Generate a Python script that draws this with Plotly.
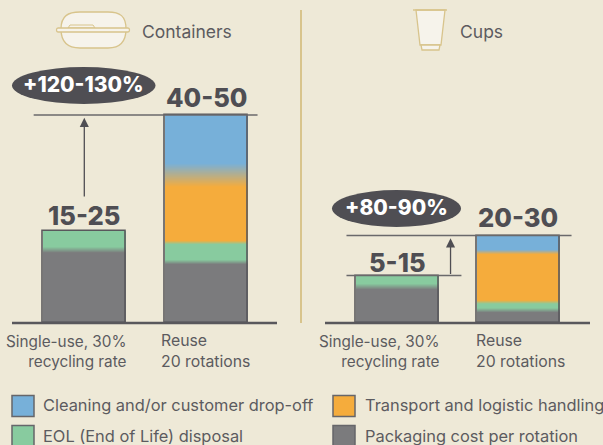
import plotly.graph_objects as go

W, H = 603, 445
BG = "#EEE9D7"; DARK = "#4F4E53"; TXT = "#5C5B5F"; GOLD = "#D8C48C"; ICON = "#F6F3EB"

segment_names = ["Packaging cost per rotation", "EOL (End of Life) disposal",
                 "Transport and logistic handling", "Cleaning and/or customer drop-off"]
segment_colors = ["#7B7B7D", "#88CB9F", "#F5AC3C", "#77B0D9"]

containers_single = [16.0, 4.0, 0, 0]
containers_reuse = [13.3, 4.3, 14.6, 13.0]
containers_blend = [1.0, 0.8, 5.2]
cups_single = [8.0, 2.3, 0, 0]
cups_reuse = [2.8, 1.8, 10.9, 3.5]
cups_blend = [1.0, 0.8, 1.0]
single_blend = [1.3, 0, 0]

containers_labels = ["15-25", "40-50"]
cups_labels = ["5-15", "20-30"]
containers_delta = "+120-130%"
cups_delta = "+80-90%"
cat_single = "Single-use, 30%<br>recycling rate"
cat_reuse = "Reuse<br>20 rotations"

BASE_PX, TOP_PX = 323, 23
Y_MAX = (BASE_PX - TOP_PX) / 4.6
FONT = "Inter, Noto Sans, sans-serif"
def px(x): return x / W
def py(y): return 1 - y / H
def hexrgb(c): return [int(c[i:i + 2], 16) for i in (1, 3, 5)]
def mix(a, b, t):
    A, B = hexrgb(a), hexrgb(b)
    return "rgb(%d,%d,%d)" % tuple(round(A[i] + (B[i] - A[i]) * t) for i in range(3))

def slices(values, blends):
    """Painter's-order tops and colours: solid segments with soft edges between them."""
    idx = [i for i, v in enumerate(values) if v > 0]
    tops, cols, cum = [], [], 0
    bounds = []
    for i in idx:
        cum += values[i]
        bounds.append(cum)
    total = cum
    step = 0.11
    n = int(total / step) + 1
    for k in range(n, -1, -1):
        y = min(total, k * step)
        c = segment_colors[idx[0]]
        for j, i in enumerate(idx):
            b = bounds[j]
            if j < len(idx) - 1:
                w = blends[j] / 2
                nxt = segment_colors[idx[j + 1]]
                if y > b + w:
                    c = nxt
                elif y > b - w:
                    c = mix(segment_colors[i], nxt, (y - (b - w)) / (2 * w))
        tops.append(y); cols.append(c)
    return tops, cols

fig = go.Figure()
def add_bars(xa, ya, groups):
    for pos, (vals, bl) in enumerate(groups):
        tops, cols = slices(vals, bl)
        fig.add_trace(go.Bar(x=[pos] * len(tops), y=tops, width=0.68, xaxis=xa, yaxis=ya,
                             marker=dict(color=cols, line=dict(width=0)), showlegend=False, hoverinfo="skip"))
        fig.add_trace(go.Bar(x=[pos], y=[sum(vals)], width=0.68, xaxis=xa, yaxis=ya,
                             marker=dict(color="rgba(0,0,0,0)", line=dict(color="#59585C", width=1.6)),
                             showlegend=False, hoverinfo="skip"))

add_bars("x", "y", [(containers_single, single_blend), (containers_reuse, containers_blend)])
add_bars("x2", "y2", [(cups_single, single_blend), (cups_reuse, cups_blend)])

shapes, ann = [], []
def text(x, y, s, size=15, color=TXT, anchor="left", weight=400, align=None, xref="paper", yref="paper", yshift=0, va="middle"):
    ann.append(dict(x=x, y=y, xref=xref, yref=yref, text=s, showarrow=False, xanchor=anchor,
                    yanchor=va, yshift=yshift, align=align or anchor, borderpad=0, borderwidth=0,
                    font=dict(family=FONT, size=size, color=color, weight=weight)))

def pline(x0, y0, x1, y1, color, width):
    shapes.append(dict(type="line", xref="paper", yref="paper", x0=px(x0), x1=px(x1), y0=py(y0), y1=py(y1),
                       line=dict(color=color, width=width)))
def ppath(d, fill, line, width=1.3):
    shapes.append(dict(type="path", xref="paper", yref="paper", path=d, fillcolor=fill, line=dict(color=line, width=width)))
def P(*pts):
    return " ".join(("%s%.5f,%.5f" % (c, px(x), py(y))) if c != "Z" else "Z" for c, x, y in pts)

# baselines & divider
pline(12, 323, 277, 323, "#59585C", 2.5)
pline(325, 323, 590, 323, "#59585C", 2.5)
pline(301, 10, 301, 323, GOLD, 2)

# reference lines at totals, arrows
def dline(xr, yr, x0, x1, y):
    shapes.append(dict(type="line", xref=xr, yref=yr, x0=x0, x1=x1, y0=y, y1=y, line=dict(color="#6A696B", width=1.5)))
LT = sum(containers_reuse); LS = sum(containers_single); RT = sum(cups_reuse); RS = sum(cups_single)
dline("x", "y", -0.415, 1.42, LT)
dline("x2", "y2", -0.42, 1.44, RT)
dline("x2", "y2", -0.42, 0.53, RS)
for xr, yr, xp, y0, y1 in [("x", "y", 0.0, LS + 7.2, LT - 0.6), ("x2", "y2", 0.44, RS, RT - 0.6)]:
    ann.append(dict(x=xp, y=y1, ax=xp, ay=y0, xref=xr, yref=yr, axref=xr, ayref=yr, text="", showarrow=True,
                    arrowhead=2, arrowsize=1.4, arrowwidth=1.3, arrowcolor="#4F4E53"))

# delta ellipses
for x0, x1, y0, y1, s in [(12, 155.5, 67, 104, containers_delta), (332, 461, 190, 227, cups_delta)]:
    shapes.append(dict(type="circle", xref="paper", yref="paper", x0=px(x0), x1=px(x1), y0=py(y1), y1=py(y0),
                       fillcolor=DARK, line=dict(width=0)))
    text(px((x0 + x1) / 2), py((y0 + y1) / 2 - 1), s, size=21, color="white", anchor="center", weight=800)

# value labels
for xr, yr, vals, labs, shifts in [("x", "y", (LS, LT), containers_labels, (0, 2)),
                                   ("x2", "y2", (RS, RT), cups_labels, (-2, 3))]:
    for i in range(2):
        text(i, vals[i], labs[i], size=25.5, color=DARK, anchor="center", weight=800, xref=xr, yref=yr, yshift=shifts[i], va="bottom")

# category labels
for s_x, u_x in [(127, 161), (440, 476)]:
    text(px(s_x), py(351), cat_single, size=15.3, anchor="right")
    text(px(u_x), py(351), cat_reuse, size=15.8, anchor="left")

# headings
text(px(142), py(31), "Containers", size=17.5)
text(px(460), py(31), "Cups", size=17.5)

# container icon
ppath(P(("M", 61, 29), ("C", 61, 16), ("", 68, 12), ("", 80, 12), ("L", 108, 12), ("C", 120, 12), ("", 126, 16), ("", 126, 29),
        ("C", 126, 42), ("", 120, 48), ("", 108, 48), ("L", 80, 48), ("C", 68, 48), ("", 61, 42), ("", 61, 29), ("Z", 0, 0)), ICON, GOLD)
ppath(P(("M", 68, 28), ("L", 70, 25), ("L", 93, 25), ("L", 95, 28), ("Z", 0, 0)), ICON, GOLD, 1)
ppath(P(("M", 58, 28), ("L", 128, 28), ("C", 130, 28), ("", 130, 32), ("", 128, 32), ("L", 58, 32), ("C", 56, 32), ("", 56, 28), ("", 58, 28), ("Z", 0, 0)), ICON, GOLD)
# cup icon
ppath(P(("M", 416, 10), ("L", 445, 10), ("L", 441, 45), ("L", 420, 45), ("Z", 0, 0)), ICON, GOLD)
ppath(P(("M", 421, 45), ("L", 440, 45), ("L", 439, 50), ("L", 422, 50), ("Z", 0, 0)), ICON, GOLD)
pline(413, 10, 447, 10, GOLD, 1.5)

# legend
LEG = [(12, 406, 3, 43), (333, 406, 2, 365), (12, 436, 1, 43), (333, 436, 0, 365)]
for x, y, i, tx in LEG:
    shapes.append(dict(type="rect", xref="paper", yref="paper", x0=px(x), x1=px(x + 22), y0=py(y + 10.5), y1=py(y - 10.5),
                       fillcolor=segment_colors[i], line=dict(color="#66666A", width=1.5)))
    text(px(tx), py(y - 1 if y == 406 else y), segment_names[i], size=16.4)

dom_y = [py(BASE_PX), py(TOP_PX)]
layout_axes = dict(showgrid=False, zeroline=False, showticklabels=False, ticks="", showline=False, fixedrange=True)
fig.update_layout(
    width=W, height=H, margin=dict(l=0, r=0, t=0, b=0), paper_bgcolor=BG, plot_bgcolor="rgba(0,0,0,0)",
    barmode="overlay", bargap=0, showlegend=False, shapes=shapes, annotations=ann,
    xaxis=dict(domain=[px(12.8), px(277.8)], range=[(12 - 83.5) / 122, (277 - 83.5) / 122], **layout_axes),
    yaxis=dict(domain=dom_y, range=[0, Y_MAX], **layout_axes),
    xaxis2=dict(domain=[px(325.8), px(590.8)], range=[(325 - 396.5) / 121, (590 - 396.5) / 121], anchor="y2", **layout_axes),
    yaxis2=dict(domain=dom_y, range=[0, Y_MAX], anchor="x2", **layout_axes),
)
fig.write_html("out.html", config=dict(displayModeBar=False),
               post_script="document.body.style.margin='0';document.body.style.overflow='hidden';document.body.style.background='#EEE9D7';")
